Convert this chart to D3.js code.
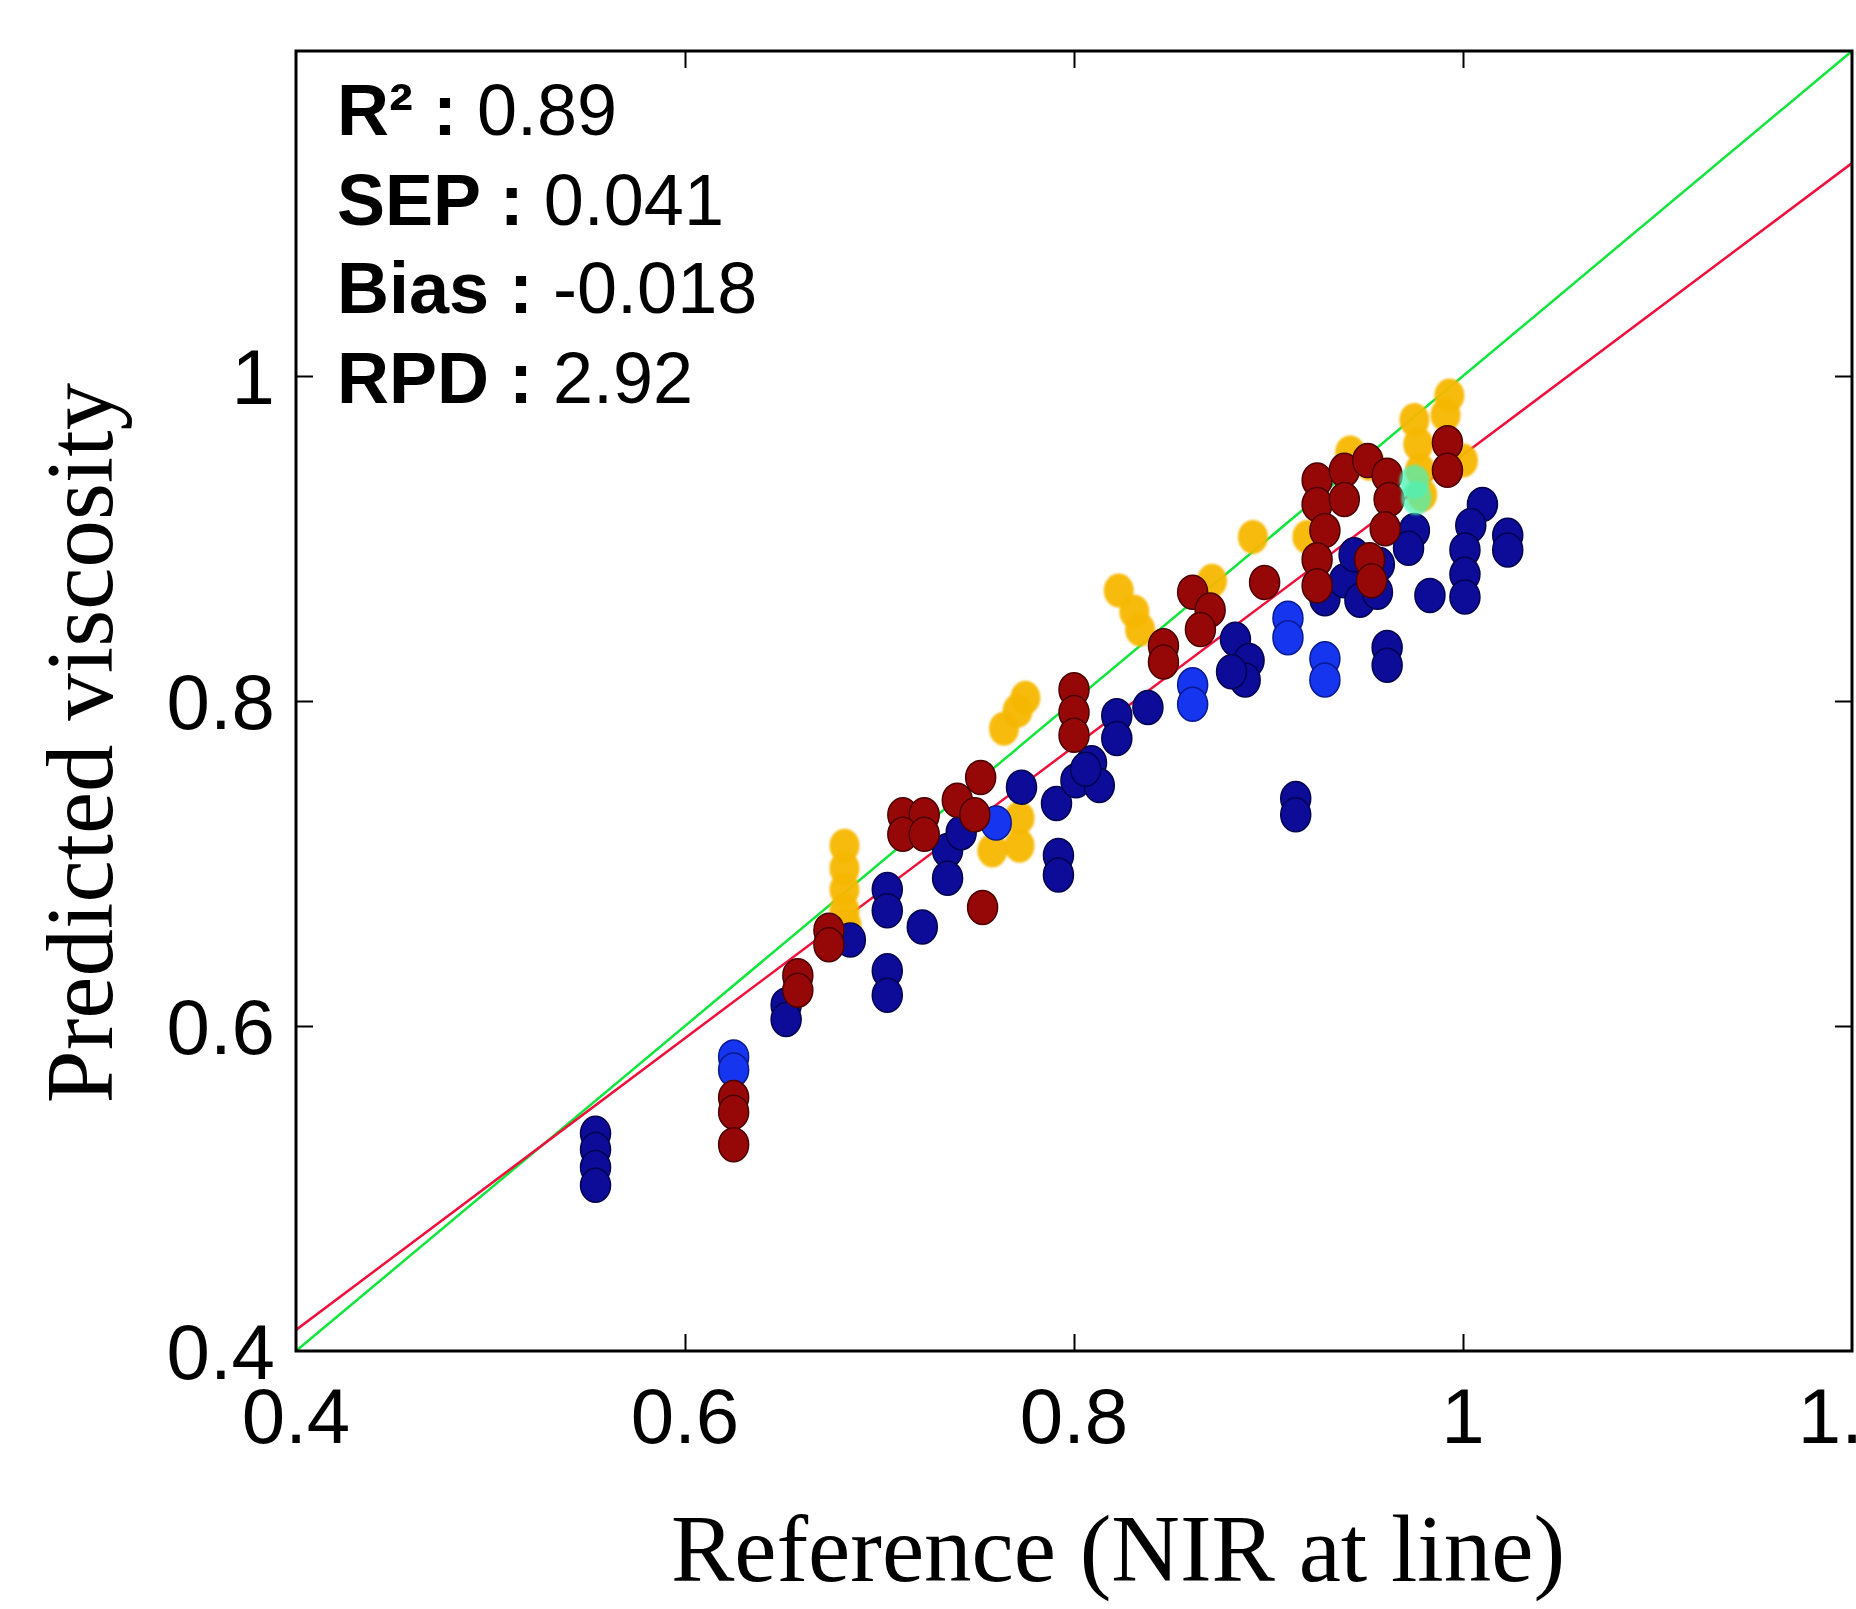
<!DOCTYPE html>
<html>
<head>
<meta charset="utf-8">
<script src="https://cdn.jsdelivr.net/npm/d3@7"></script>
<style>
  html, body { margin: 0; padding: 0; background: #ffffff; }
  svg { display: block; }
</style>
</head>
<body>
<svg id="chart" width="1856" height="1609"></svg>
<script>
// ---------------- DATA ----------------
const xTicks = [0.4, 0.6, 0.8, 1.0, 1.2];
const yTicks = [0.4, 0.6, 0.8, 1.0];
const xTickLabels = ["0.4", "0.6", "0.8", "1", "1.2"];
const yTickLabels = ["0.4", "0.6", "0.8", "1"];
const xDomain = [0.4, 1.2];
const yDomain = [0.4, 1.2];

const statsLabels = ["R\u00B2 : ", "SEP : ", "Bias : ", "RPD : "];
const statsValues = ["0.89", "0.041", "-0.018", "2.92"];

const xTitle = "Reference (NIR at line)";
const yTitle = "Predicted viscosity";

// identity (target) line and fitted regression line
const identityLine = [[0.4, 0.4], [1.2, 1.2]];
const fitSlope = 0.8975;
const fitIntercept = 0.054;

// series: [reference, predicted]
const navyPoints = [
  [0.554,0.534],[0.554,0.524],[0.554,0.513],[0.554,0.502],
  [0.652,0.613],[0.652,0.604],[0.685,0.653],
  [0.704,0.684],[0.704,0.671],[0.704,0.634],[0.704,0.619],
  [0.722,0.661],[0.735,0.708],[0.735,0.691],[0.742,0.719],
  [0.773,0.747],[0.791,0.737],[0.792,0.705],[0.792,0.693],
  [0.801,0.751],[0.809,0.762],[0.813,0.748],[0.806,0.758],
  [0.822,0.791],[0.822,0.777],[0.838,0.796],
  [0.883,0.838],[0.890,0.825],[0.888,0.813],[0.881,0.818],
  [0.914,0.740],[0.914,0.730],
  [0.961,0.833],[0.961,0.822],
  [0.975,0.905],[0.972,0.894],[0.983,0.865],
  [1.010,0.921],[1.004,0.908],[1.001,0.893],[1.001,0.878],[1.001,0.864],
  [1.023,0.902],[1.023,0.893],
  [0.929,0.863],[0.939,0.874],[0.947,0.862],[0.956,0.867],[0.957,0.884],[0.944,0.890]
];
const brightBluePoints = [
  [0.625,0.581],[0.625,0.573],[0.760,0.725],
  [0.861,0.810],[0.861,0.798],[0.910,0.851],[0.910,0.839],
  [0.929,0.826],[0.929,0.813]
];
const darkRedPoints = [
  [0.625,0.556],[0.625,0.547],[0.625,0.527],
  [0.658,0.631],[0.658,0.622],[0.674,0.659],[0.674,0.650],
  [0.712,0.730],[0.723,0.730],[0.712,0.718],[0.723,0.718],
  [0.740,0.739],[0.749,0.730],[0.752,0.753],[0.753,0.673],
  [0.800,0.807],[0.800,0.793],[0.800,0.779],
  [0.846,0.834],[0.846,0.824],
  [0.861,0.867],[0.870,0.856],[0.865,0.844],
  [0.898,0.873],
  [0.925,0.936],[0.925,0.921],[0.929,0.905],[0.925,0.887],[0.925,0.871],
  [0.939,0.942],[0.951,0.948],[0.961,0.939],[0.962,0.924],[0.960,0.906],
  [0.952,0.887],[0.953,0.874],[0.939,0.924],
  [0.992,0.959],[0.992,0.942]
];
const yellowPoints = [
  [0.682,0.711],[0.682,0.697],[0.682,0.684],[0.682,0.671],[0.683,0.662],
  [0.758,0.708],[0.772,0.728],[0.772,0.711],
  [0.764,0.783],[0.771,0.794],[0.775,0.802],
  [0.823,0.868],[0.831,0.855],[0.834,0.844],
  [0.871,0.874],[0.892,0.901],[0.920,0.901],
  [0.942,0.953],[0.952,0.946],
  [0.975,0.973],[0.977,0.958],[0.978,0.942],[0.979,0.927],
  [0.993,0.988],[0.991,0.976],[1.000,0.948]
];
const cyanPoints = [
  [0.975,0.935],[0.976,0.925]
];

// ---------------- CHART ----------------
const svg = d3.select("#chart");
const W = 1856, H = 1609;
const plot = { left: 296, right: 1852, top: 51, bottom: 1351 };

const x = d3.scaleLinear().domain(xDomain).range([plot.left, plot.right]);
const y = d3.scaleLinear().domain(yDomain).range([plot.bottom, plot.top]);

svg.append("rect").attr("x", 0).attr("y", 0).attr("width", W).attr("height", H).attr("fill", "#ffffff");

const defs = svg.append("defs");
defs.append("clipPath").attr("id", "plotClip")
  .append("rect")
  .attr("x", plot.left).attr("y", plot.top)
  .attr("width", plot.right - plot.left).attr("height", plot.bottom - plot.top);
defs.append("filter").attr("id", "soft")
  .append("feGaussianBlur").attr("stdDeviation", 1.2);

const g = svg.append("g").attr("clip-path", "url(#plotClip)");

// lines
const line = d3.line().x(d => x(d[0])).y(d => y(d[1]));
g.append("path").datum(identityLine)
  .attr("d", line).attr("fill", "none")
  .attr("stroke", "#10e63c").attr("stroke-width", 2.5);
const fitLine = xDomain.map(v => [v, fitSlope * v + fitIntercept]);
g.append("path").datum(fitLine)
  .attr("d", line).attr("fill", "none")
  .attr("stroke", "#f0103c").attr("stroke-width", 2.5);

// markers
function drawSeries(data, fill, stroke, opts = {}) {
  const sel = g.append("g");
  if (opts.filter) sel.attr("filter", opts.filter);
  sel.selectAll("ellipse").data(data).enter().append("ellipse")
    .attr("cx", d => x(d[0]))
    .attr("cy", d => y(d[1]))
    .attr("rx", 15).attr("ry", 17)
    .attr("fill", fill)
    .attr("fill-opacity", opts.opacity || 1)
    .attr("stroke", stroke)
    .attr("stroke-width", stroke === "none" ? 0 : 1.5);
}
drawSeries(yellowPoints, "#f7b705", "none", { filter: "url(#soft)", opacity: 0.95 });
drawSeries(navyPoints, "#0c0c98", "#04044e");
drawSeries(brightBluePoints, "#1535ee", "#0a1a90");
drawSeries(darkRedPoints, "#960808", "#4c0000");
drawSeries(cyanPoints, "#50f0b4", "none", { opacity: 0.75, filter: "url(#soft)" });

// axes box
svg.append("rect")
  .attr("x", plot.left).attr("y", plot.top)
  .attr("width", plot.right - plot.left).attr("height", plot.bottom - plot.top)
  .attr("fill", "none").attr("stroke", "#000").attr("stroke-width", 3);

// inward ticks via d3 axes
const tickLen = 17;
const innerX = xTicks.filter(v => v > xDomain[0] && v < xDomain[1]);
const innerY = yTicks.filter(v => v > yDomain[0] && v < yDomain[1]);

const axB = svg.append("g").attr("transform", `translate(0,${plot.bottom})`)
  .call(d3.axisTop(x).tickValues(innerX).tickSize(tickLen).tickFormat(""));
const axT = svg.append("g").attr("transform", `translate(0,${plot.top})`)
  .call(d3.axisBottom(x).tickValues(innerX).tickSize(tickLen).tickFormat(""));
const axL = svg.append("g").attr("transform", `translate(${plot.left},0)`)
  .call(d3.axisRight(y).tickValues(innerY).tickSize(tickLen).tickFormat(""));
const axR = svg.append("g").attr("transform", `translate(${plot.right},0)`)
  .call(d3.axisLeft(y).tickValues(innerY).tickSize(tickLen).tickFormat(""));
[axB, axT, axL, axR].forEach(a => {
  a.select(".domain").remove();
  a.selectAll(".tick line").attr("stroke", "#000").attr("stroke-width", 2);
});

// tick labels
const tickFont = "'Liberation Sans', Arial, Helvetica, sans-serif";
svg.append("g").selectAll("text").data(xTicks).enter().append("text")
  .attr("x", d => x(d)).attr("y", plot.bottom + 92)
  .attr("text-anchor", "middle")
  .attr("font-family", tickFont).attr("font-size", 78)
  .attr("fill", "#000")
  .text((d, i) => xTickLabels[i]);
svg.append("g").selectAll("text").data(yTicks).enter().append("text")
  .attr("x", plot.left - 21).attr("y", d => y(d) + 28)
  .attr("text-anchor", "end")
  .attr("font-family", tickFont).attr("font-size", 78)
  .attr("fill", "#000")
  .text((d, i) => yTickLabels[i]);

// axis titles
const serif = "'Liberation Serif', 'Times New Roman', Times, serif";
svg.append("text")
  .attr("x", 1118).attr("y", 1581)
  .attr("text-anchor", "middle")
  .attr("font-family", serif).attr("font-size", 95)
  .attr("fill", "#000")
  .text(xTitle);
svg.append("text")
  .attr("transform", `translate(112,743) rotate(-90)`)
  .attr("text-anchor", "middle")
  .attr("font-family", serif).attr("font-size", 95)
  .attr("fill", "#000")
  .text(yTitle);

// statistics text
const statBase = [135, 225, 313, 403];
const stats = svg.append("g");
statsLabels.forEach((lab, i) => {
  const t = stats.append("text")
    .attr("x", 337).attr("y", statBase[i])
    .attr("font-family", tickFont).attr("font-size", 72)
    .attr("fill", "#000");
  t.append("tspan").attr("font-weight", "bold").text(lab);
  t.append("tspan").attr("font-weight", "normal").text(statsValues[i]);
});
</script>
</body>
</html>
